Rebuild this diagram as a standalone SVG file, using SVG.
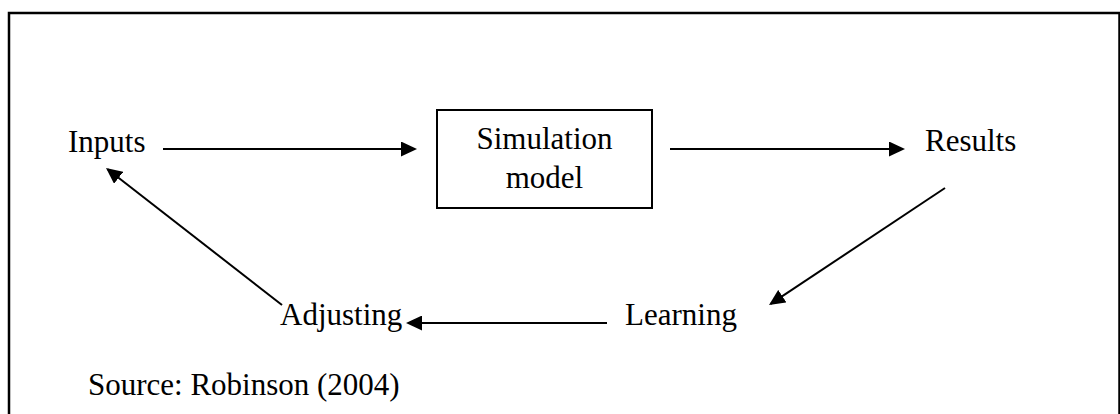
<svg xmlns="http://www.w3.org/2000/svg" width="1120" height="414" viewBox="0 0 1120 414">
  <defs>
    <marker id="ah" markerUnits="userSpaceOnUse" markerWidth="16" markerHeight="15" refX="14" refY="7.5" orient="auto">
      <path d="M0,0 L16,7.5 L0,15 z" fill="#000"/>
    </marker>
  </defs>
  <rect width="1120" height="414" fill="#fff"/>
  <path id="frame" d="M9,420 V13 H1119.5 V420" fill="none" stroke="#000" stroke-width="2.5"/>

  <g id="inputs"><text font-family="Times New Roman, Liberation Serif, serif" style="font-family:'Liberation Serif','Times New Roman',serif !important" font-size="31" x="68" y="152">Inputs</text></g>
  <g id="simulation-model">
    <rect x="437" y="110" width="215" height="98" fill="#fff" stroke="#000" stroke-width="2"/>
    <text font-family="Times New Roman, Liberation Serif, serif" style="font-family:'Liberation Serif','Times New Roman',serif !important" font-size="31" x="544.5" y="149" text-anchor="middle">Simulation</text>
    <text font-family="Times New Roman, Liberation Serif, serif" style="font-family:'Liberation Serif','Times New Roman',serif !important" font-size="31" x="544.5" y="188" text-anchor="middle">model</text>
  </g>
  <g id="results"><text font-family="Times New Roman, Liberation Serif, serif" style="font-family:'Liberation Serif','Times New Roman',serif !important" font-size="31" x="925" y="151">Results</text></g>
  <g id="learning"><text font-family="Times New Roman, Liberation Serif, serif" style="font-family:'Liberation Serif','Times New Roman',serif !important" font-size="31" x="625" y="325">Learning</text></g>
  <g id="adjusting"><text font-family="Times New Roman, Liberation Serif, serif" style="font-family:'Liberation Serif','Times New Roman',serif !important" font-size="31" x="280" y="325">Adjusting</text></g>
  <g id="source"><text font-family="Times New Roman, Liberation Serif, serif" style="font-family:'Liberation Serif','Times New Roman',serif !important" font-size="31" x="88" y="395">Source: Robinson (2004)</text></g>

  <g id="connectors" stroke="#000" stroke-width="2" fill="none" marker-end="url(#ah)">
    <line x1="163" y1="149" x2="415" y2="149"/>
    <line x1="670" y1="149" x2="903" y2="149"/>
    <line x1="945" y1="188" x2="770.7" y2="303.9"/>
    <line x1="607" y1="323" x2="408" y2="323"/>
    <line x1="282" y1="305" x2="107.6" y2="169.2"/>
  </g>
</svg>
